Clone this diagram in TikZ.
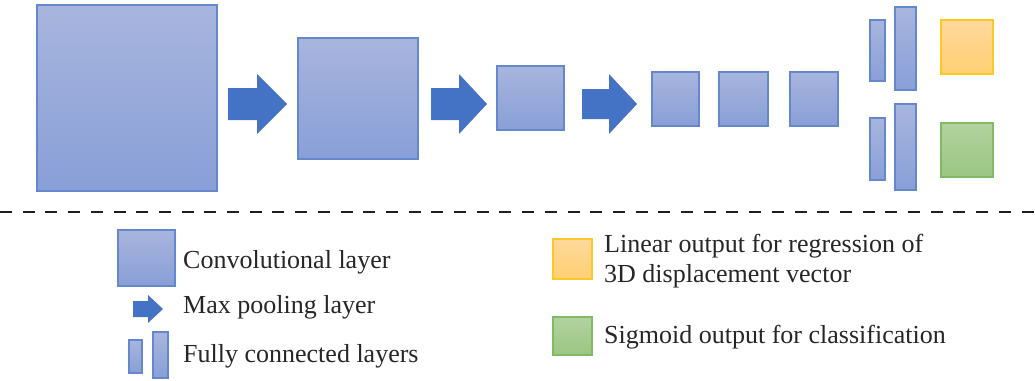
\documentclass[tikz,border=0pt]{standalone}
\usepackage{fontspec}
\setmainfont{Liberation Serif}
\begin{document}
\begin{tikzpicture}[x=1pt,y=-1pt,
  box/.style={anchor=north west, inner sep=0pt, outer sep=0pt, line width=1.3pt},
  conv/.style={box, draw={rgb,255:red,100;green,135;blue,205}, top color={rgb,255:red,168;green,181;blue,222}, bottom color={rgb,255:red,136;green,159;blue,215}},
  outorange/.style={box, draw={rgb,255:red,255;green,198;blue,40}, top color={rgb,255:red,255;green,216;blue,155}, bottom color={rgb,255:red,255;green,208;blue,115}},
  outgreen/.style={box, draw={rgb,255:red,130;green,185;blue,100}, top color={rgb,255:red,178;green,210;blue,160}, bottom color={rgb,255:red,155;green,198;blue,130}},
  pool/.style={fill={rgb,255:red,68;green,114;blue,196}, draw=none},
  lbl/.style={anchor=base west, inner sep=0pt, text={rgb,255:red,38;green,38;blue,38}, font=\fontsize{26}{30}\selectfont, align=left}
]
\useasboundingbox (0,0) rectangle (1035,380);
% network
\node[conv, minimum width=180pt, minimum height=186pt] (c1) at (37,5) {};
\node[conv, minimum width=120pt, minimum height=121pt] (c2) at (298,38) {};
\node[conv, minimum width=67pt, minimum height=64pt] (c3) at (497,66) {};
\node[conv, minimum width=47pt, minimum height=54pt] (c4) at (652,72) {};
\node[conv, minimum width=49pt, minimum height=54pt] (c5) at (719,72) {};
\node[conv, minimum width=48pt, minimum height=54pt] (c6) at (790,72) {};
\node[conv, minimum width=15pt, minimum height=61pt] (f1) at (870,20) {};
\node[conv, minimum width=21pt, minimum height=83pt] (f2) at (895,7) {};
\node[conv, minimum width=15pt, minimum height=62pt] (f3) at (870,118) {};
\node[conv, minimum width=21pt, minimum height=86pt] (f4) at (895,104) {};
\node[outorange, minimum width=52pt, minimum height=54pt] (o1) at (941,20) {};
\node[outgreen, minimum width=52pt, minimum height=54pt] (o2) at (941,123) {};
% pooling arrows
\fill[pool] (228,88) -- (257,88) -- (257,74) -- (287,104) -- (257,134) -- (257,120) -- (228,120) -- cycle;
\fill[pool] (431,88) -- (459,88) -- (459,74) -- (487,104) -- (459,134) -- (459,120) -- (431,120) -- cycle;
\fill[pool] (582,89) -- (609,89) -- (609,74) -- (637,104) -- (609,134) -- (609,119) -- (582,119) -- cycle;
% separator
\coordinate (sepL) at (0,212);
\coordinate (sepR) at (1035,212);
\draw[line width=2.8pt, draw={rgb,255:red,30;green,30;blue,30}, dash pattern=on 12pt off 10.7pt] (sepL) -- (sepR);
% legend
\node[conv, minimum width=57pt, minimum height=56pt] (lc) at (118,230) {};
\node[lbl] (tc) at (183,268) {Convolutional layer};
\fill[pool] (133,301) -- (148,301) -- (148,295) -- (163,309) -- (148,323) -- (148,317) -- (133,317) -- cycle;
\node[lbl] (tp) at (183,313) {Max pooling layer};
\node[conv, minimum width=13pt, minimum height=33pt] (lf1) at (129,340) {};
\node[conv, minimum width=15pt, minimum height=46pt] (lf2) at (153,332) {};
\node[lbl] (tf) at (183,362) {Fully connected layers};
\node[outorange, minimum width=39pt, minimum height=40pt] (lo) at (553,239) {};
\node[lbl] (to1) at (604,252) {Linear output for regression of};
\node[lbl] (to2) at (604,282) {3D displacement vector};
\node[outgreen, minimum width=39pt, minimum height=38pt] (lg) at (553,317) {};
\node[lbl] (tg) at (604,343) {Sigmoid output for classification};
\end{tikzpicture}
\end{document}
